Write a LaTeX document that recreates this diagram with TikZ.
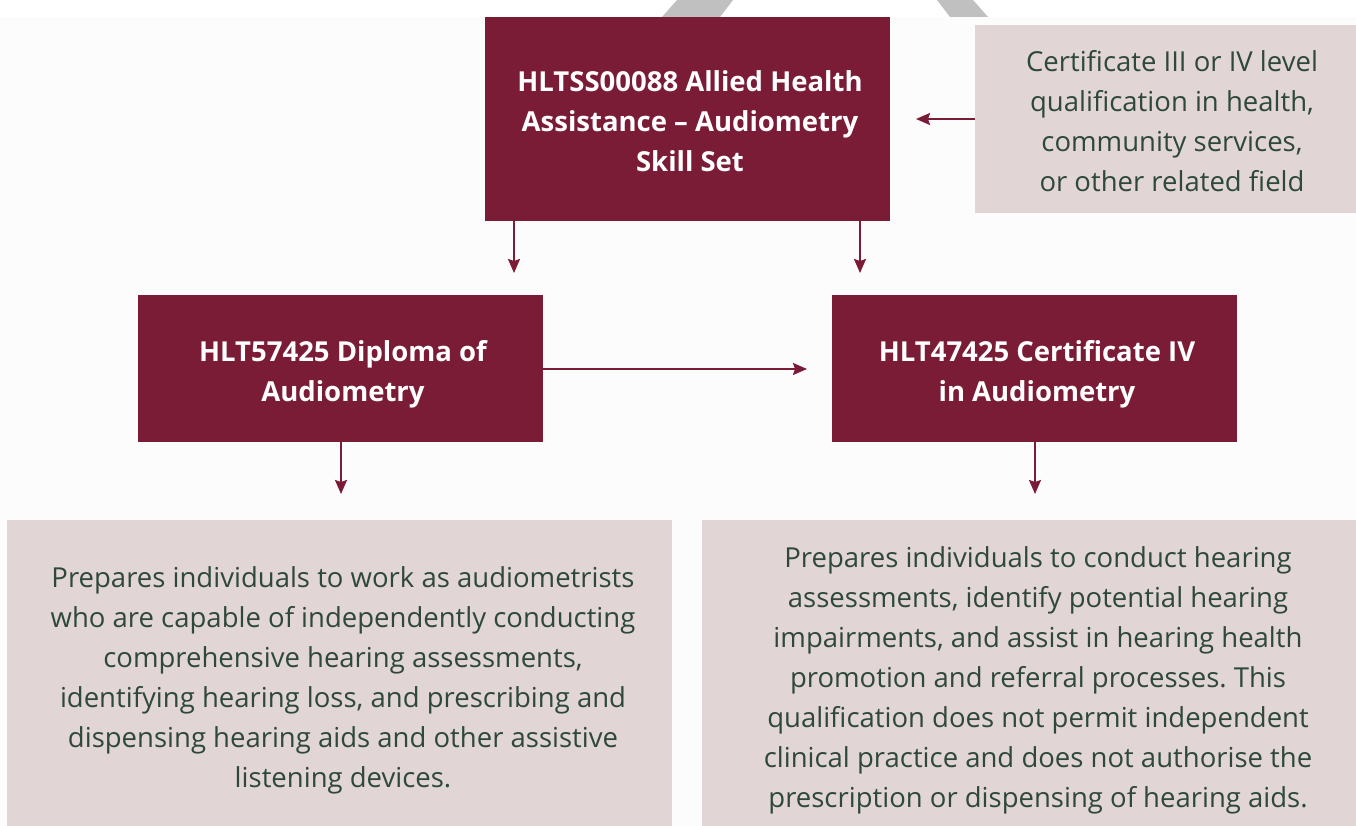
\documentclass[tikz,border=0pt]{standalone}
\usepackage{fontspec}
\setmainfont{Open Sans}
\frenchspacing
\usetikzlibrary{arrows.meta}
\definecolor{maroon}{HTML}{7B1C37}
\definecolor{pinkbg}{HTML}{E2D5D5}
\definecolor{darktxt}{HTML}{2F483D}
\definecolor{pagebg}{HTML}{FCFCFC}
\definecolor{watermark}{HTML}{C0C0C0}
\tikzset{
  darkbox/.style={fill=maroon, draw=none, inner sep=0pt},
  pinkbox/.style={fill=pinkbg, draw=none, inner sep=0pt},
  whitetxt/.style={text=white, font=\fontsize{27.5}{40}\selectfont\bfseries, align=center, inner sep=0pt},
  darktext/.style={text=darktxt, font=\fontsize{27.5}{40}\selectfont, align=center, inner sep=0pt},
  conn/.style={draw=maroon, line width=1.9pt, -{Stealth[length=14pt,width=12pt,inset=2pt]}}
}
\begin{document}
\begin{tikzpicture}[x=1pt,y=-1pt]
\useasboundingbox (0,0) rectangle (1356,826);
\fill[white] (0,0) rectangle (1356,826);
\fill[watermark] (677,0) -- (733,0) -- (720,17) -- (662,17) -- cycle;
\fill[watermark] (937,0) -- (973,0) -- (988,17) -- (950,17) -- cycle;
\fill[pagebg] (0,17) rectangle (1356,826);

\node[darkbox, minimum width=405pt, minimum height=204pt] (skill) at (687.5,119) {};
\node[whitetxt] (skilltxt) at (690,121) {HLTSS00088 Allied Health\\Assistance -- Audiometry\\Skill Set};
\node[pinkbox, minimum width=381pt, minimum height=188pt] (prereq) at (1165.5,119) {};
\node[darktext] (prereqtxt) at (1172,121.5) {Certificate III or IV level\\qualification in health,\\community services,\\or other related field};
\node[darkbox, minimum width=405pt, minimum height=147pt] (dip) at (340.5,368.5) {};
\node[whitetxt] (diptxt) at (343,374.5) {HLT57425 Diploma of\\Audiometry};
\node[darkbox, minimum width=405pt, minimum height=147pt] (cert) at (1034.5,368.5) {};
\node[whitetxt] (certtxt) at (1037,374.5) {HLT47425 Certificate IV\\in Audiometry};
\node[pinkbox, minimum width=665pt, minimum height=306pt] (dipdesc) at (339.5,673) {};
\node[darktext] (dipdesctxt) at (343,680) {Prepares individuals to work as audiometrists\\who are capable of independently conducting\\comprehensive hearing assessments,\\identifying hearing loss, and prescribing and\\dispensing hearing aids and other assistive\\listening devices.};
\node[pinkbox, minimum width=654pt, minimum height=306pt] (certdesc) at (1029,673) {};
\node[darktext] (certdesctxt) at (1038,680) {Prepares individuals to conduct hearing\\assessments, identify potential hearing\\impairments, and assist in hearing health\\promotion and referral processes. This\\qualification does not permit independent\\clinical practice and does not authorise the\\prescription or dispensing of hearing aids.};

\coordinate (e1) at (916,119);
\coordinate (e2) at (514,273);
\coordinate (e3) at (860,273);
\coordinate (e4) at (807,369);
\coordinate (e5) at (341,494);
\coordinate (e6) at (1035,494);

\draw[conn] (prereq.west |- e1) -- (e1);
\draw[conn] (skill.south -| e2) -- (e2);
\draw[conn] (skill.south -| e3) -- (e3);
\draw[conn] (dip.east |- e4) -- (e4);
\draw[conn] (dip.south -| e5) -- (e5);
\draw[conn] (cert.south -| e6) -- (e6);
\end{tikzpicture}
\end{document}
